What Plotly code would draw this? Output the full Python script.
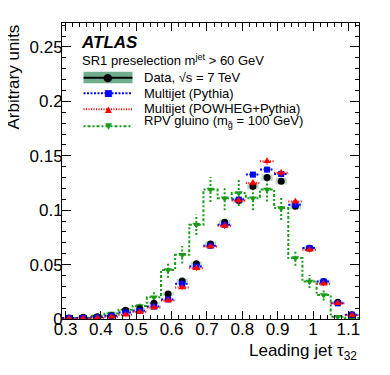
import plotly.graph_objects as go

# tau32 bin centres, bin width 0.04
tau32 = [0.31, 0.35, 0.39, 0.43, 0.47, 0.51, 0.55, 0.59, 0.63, 0.67, 0.71,
         0.75, 0.79, 0.83, 0.87, 0.91, 0.95, 0.99, 1.03, 1.07, 1.11]
bin_width = 0.04

data = [0.001, 0.0015, 0.002, 0.003, 0.008, 0.0095, 0.0145, 0.023, 0.035, 0.0507, 0.069,
        0.0888, 0.109, 0.122, 0.130, 0.1266, 0.1035, 0.065, 0.0344, 0.0154, 0.004]
data_syst = [0.0005, 0.0005, 0.0005, 0.0008, 0.001, 0.001, 0.0012, 0.0015, 0.0018, 0.002, 0.0022,
             0.0025, 0.0027, 0.003, 0.003, 0.003, 0.0027, 0.0022, 0.0018, 0.0012, 0.0008]

pythia = [0.001, 0.001, 0.0015, 0.003, 0.006, 0.0075, 0.0114, 0.018, 0.0323, 0.0482, 0.0673,
          0.0866, 0.1097, 0.1327, 0.1373, 0.1333, 0.105, 0.0652, 0.0344, 0.0144, 0.004]
pythia_err = [0.0005, 0.0005, 0.0005, 0.0008, 0.001, 0.001, 0.001, 0.0012, 0.0015, 0.0018, 0.002,
              0.002, 0.0022, 0.0025, 0.0025, 0.0025, 0.0022, 0.002, 0.0015, 0.001, 0.0008]

powheg = [0.0005, 0.0005, 0.001, 0.002, 0.004, 0.0065, 0.0105, 0.017, 0.029, 0.0467, 0.0667,
          0.0857, 0.1088, 0.125, 0.145, 0.1343, 0.108, 0.0636, 0.0323, 0.0144, 0.0035]
powheg_err = [0.0008, 0.0008, 0.001, 0.001, 0.0015, 0.0015, 0.0018, 0.002, 0.002, 0.0025, 0.0025,
              0.003, 0.003, 0.003, 0.0033, 0.003, 0.003, 0.0025, 0.002, 0.0018, 0.0012]

rpv = [0.001, 0.001, 0.003, 0.005, 0.0085, 0.012, 0.02, 0.045, 0.059, 0.0866, 0.119,
       0.111, 0.1158, 0.111, 0.119, 0.102, 0.056, 0.0344, 0.022, 0.002, 0.001]
rpv_err = [0.001, 0.001, 0.0015, 0.002, 0.003, 0.0035, 0.0045, 0.007, 0.008, 0.0095, 0.0115,
           0.011, 0.012, 0.011, 0.011, 0.011, 0.007, 0.006, 0.005, 0.0015, 0.001]

blue = "#0000ff"
red = "#ff0000"
green = "#1a9c1a"
band = "#6fae8c"
font = "Liberation Sans, Arial, sans-serif"
green_dash = "2px,2px,3px,2px"


def segments(vals):
    xs, ys = [], []
    for c, v in zip(tau32, vals):
        xs += [c - bin_width / 2, c + bin_width / 2, None]
        ys += [v, v, None]
    return xs, ys


def vbars(vals, errs):
    xs, ys = [], []
    for c, v, e in zip(tau32, vals, errs):
        xs += [c, c, None]
        ys += [v - e, v + e, None]
    return xs, ys


fig = go.Figure()

# RPV gluino: dotted step histogram + markers with dotted error bars
step_x = [c - bin_width / 2 for c in tau32] + [tau32[-1] + bin_width / 2]
step_y = rpv + [rpv[-1]]
fig.add_trace(go.Scatter(x=step_x, y=step_y, mode="lines", line_shape="hv",
                         line=dict(color=green, width=2, dash=green_dash)))
ex, ey = vbars(rpv, rpv_err)
fig.add_trace(go.Scatter(x=ex, y=ey, mode="lines", line=dict(color=green, width=2, dash="2px,2px")))
fig.add_trace(go.Scatter(x=tau32, y=rpv, mode="markers",
                         marker=dict(symbol="triangle-down", size=7, color=green)))

# data systematic boxes
fig.add_trace(go.Bar(x=tau32, y=[2 * e for e in data_syst],
                     base=[v - e for v, e in zip(data, data_syst)],
                     width=bin_width * 0.8, marker=dict(color=band, line_width=0), opacity=0.45))
fig.add_trace(go.Scatter(x=tau32, y=data, mode="markers",
                         marker=dict(symbol="circle", size=7, color="black")))

# Pythia multijet
sx, sy = segments(pythia)
fig.add_trace(go.Scatter(x=sx, y=sy, mode="lines", line=dict(color=blue, width=2, dash="2px,1.5px")))
fig.add_trace(go.Scatter(x=tau32, y=pythia, mode="markers",
                         marker=dict(symbol="square", size=6, color=blue),
                         error_y=dict(type="data", array=pythia_err, color=blue, thickness=1, width=0)))

# POWHEG+Pythia multijet
sx, sy = segments(powheg)
fig.add_trace(go.Scatter(x=sx, y=sy, mode="lines", line=dict(color=red, width=2, dash="1px,1.5px")))
fig.add_trace(go.Scatter(x=tau32, y=powheg, mode="markers",
                         marker=dict(symbol="triangle-up", size=7, color=red),
                         error_y=dict(type="data", array=powheg_err, color=red, thickness=1, width=0)))

# page body has an 8px margin, so the figure is 8px smaller and the frame sits at 62..359 x 23..319
W, H = 382, 367
ML, MT, MR, MB = 54, 15, 31, 56


def px(X):
    return (X - 62) / 297


def py(Y):
    return (319 - Y) / 296


# legend drawn by hand in ROOT style
lx0, lx1 = px(83.5), px(132.5)
shapes = [
    dict(type="rect", xref="paper", yref="paper", x0=lx0, x1=lx1, y0=py(83.3), y1=py(71.7),
         fillcolor=band, line_width=0),
    dict(type="line", xref="paper", yref="paper", x0=lx0, x1=lx1, y0=py(77.7), y1=py(77.7),
         line=dict(color="black", width=2)),
    dict(type="line", xref="paper", yref="paper", x0=lx0, x1=lx1, y0=py(93.3), y1=py(93.3),
         line=dict(color=blue, width=2, dash="2px,1.5px")),
    dict(type="line", xref="paper", yref="paper", x0=lx0, x1=lx1, y0=py(109.3), y1=py(109.3),
         line=dict(color=red, width=2, dash="1px,1.5px")),
    dict(type="line", xref="paper", yref="paper", x0=lx0, x1=lx1, y0=py(126.3), y1=py(126.3),
         line=dict(color=green, width=2, dash=green_dash)),
]

annotations = [
    dict(text="<b><i>ATLAS</i></b>", x=px(78.5), y=py(42.7), size=17),
    dict(text="SR1 preselection m<sup>jet</sup> > 60 GeV", x=px(80), y=py(59.5), size=13),
    dict(text="Data, √s = 7 TeV", x=px(142), y=py(77.7), size=13),
    dict(text="Multijet (Pythia)", x=px(142), y=py(93), size=13),
    dict(text="Multijet (POWHEG+Pythia)", x=px(142), y=py(108.5), size=13),
    dict(text="RPV gluino (m<sub>g̃</sub> = 100 GeV)", x=px(142), y=py(122), size=13),
]
ann = []
for a in annotations:
    ann.append(dict(text=a["text"], x=a["x"], y=a["y"], xref="paper", yref="paper",
                    xanchor="left", yanchor="middle", showarrow=False,
                    font=dict(family=font, size=a["size"], color="black")))

glyphs = [("●", "black", 77.7, 11), ("■", blue, 93.3, 9), ("▲", red, 109.3, 9), ("▼", green, 126.3, 9)]
for g, col, Y, s in glyphs:
    ann.append(dict(text=g, x=px(108), y=py(Y), xref="paper", yref="paper", xanchor="center",
                    yanchor="middle", showarrow=False, font=dict(family="DejaVu Sans", size=s, color=col)))

# axis titles, ROOT style (right/top aligned)
ann.append(dict(text="Leading jet τ<sub>32</sub>", x=1, y=py(352), xref="paper", yref="paper",
                xanchor="right", yanchor="middle", showarrow=False,
                font=dict(family=font, size=17, color="black")))
ann.append(dict(text="Arbitrary units", x=px(13), y=1, xref="paper", yref="paper", textangle=-90,
                xanchor="center", yanchor="top", showarrow=False,
                font=dict(family=font, size=17, color="black")))

axis_common = dict(showline=True, linecolor="black", linewidth=1, mirror="allticks",
                   ticks="inside", tickcolor="black", showgrid=False, zeroline=False,
                   tickfont=dict(family=font, size=17, color="black"))

fig.update_layout(
    width=W, height=H,
    margin=dict(l=ML, r=MR, t=MT, b=MB),
    paper_bgcolor="white", plot_bgcolor="white",
    showlegend=False, barmode="overlay",
    shapes=shapes, annotations=ann,
    xaxis=dict(range=[0.29, 1.13], dtick=0.1, tick0=0.3, ticklen=8, ticklabelstandoff=-5,
               minor=dict(dtick=0.02, ticklen=4, ticks="inside", tickcolor="black"),
               **axis_common),
    yaxis=dict(range=[0, 0.272], dtick=0.05, ticklen=9, ticklabelstandoff=-5,
               minor=dict(dtick=0.01, ticklen=4, ticks="inside", tickcolor="black"),
               **axis_common),
)

fig.write_html("out.html")
